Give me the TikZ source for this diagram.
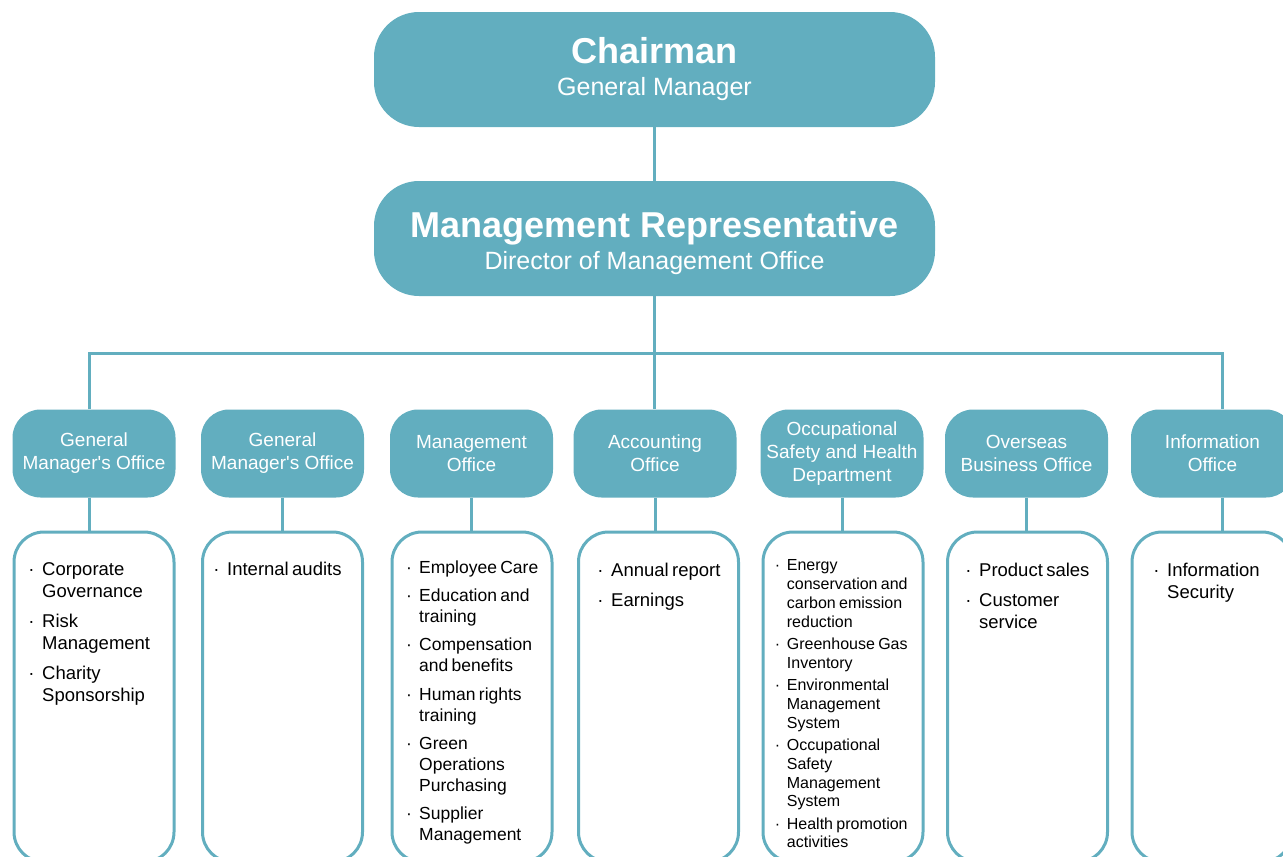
\documentclass[tikz,border=0pt]{standalone}
\usepackage{fontspec}
\setmainfont{Liberation Sans}
\definecolor{orgteal}{HTML}{62AEBF}
\newlength\itemgap
\newif\iffirstitm
\newcommand\bulletw{0.75em}
% one bulleted entry, later lines hang under the text
\newcommand\itm[1]{\iffirstitm\global\firstitmfalse\else\par\addvspace{\itemgap}\fi
  \noindent\hangindent=\bulletw\hangafter=1\relax\makebox[\bulletw][l]{·}#1}
\newcommand\listfont[3]{\fontsize{#1}{#2}\selectfont\setlength\itemgap{#3}\global\firstitmtrue}
\tikzset{
  topbox/.style={fill=orgteal, rounded corners=45pt, minimum width=561pt, minimum height=115pt, inner sep=0pt},
  chieftitle/.style={font=\fontsize{36}{40}\selectfont\bfseries, text=white, inner sep=0pt, anchor=base},
  chiefsub/.style={font=\fontsize{25}{28}\selectfont, text=white, inner sep=0pt, anchor=base},
  deptbox/.style={fill=orgteal, rounded corners=28pt, minimum width=163pt, minimum height=88pt, inner sep=0pt,
    text=white, align=center, font=\fontsize{19}{23}\selectfont},
  listbox/.style={draw=orgteal, line width=3pt, rounded corners=30pt, minimum width=160pt, minimum height=330pt, inner sep=0pt},
  listtext/.style={anchor=base west, inner sep=0pt, text width=150pt, align=left, text=black},
  link/.style={draw=orgteal, line width=3pt},
}
\begin{document}
\begin{tikzpicture}[x=1pt,y=-1pt]
\useasboundingbox (0,0) rectangle (1283,857);
\clip (0,0) rectangle (1283,857);

% top of the hierarchy
\node[topbox] (chair) at (654.5,69.5) {};
\node[chieftitle] (chairT) at (654.5,63) {Chairman};
\node[chiefsub] (chairS) at (654.5,95) {General Manager};

\node[topbox] (rep) at (654.5,238.5) {};
\node[chieftitle] (repT) at (654.5,237) {Management Representative};
\node[chiefsub] (repS) at (654.5,269) {Director of Management Office};

% departments
\node[deptbox] (d1) at (94,453.5) {General\\Manager\textquotesingle s Office};
\node[deptbox] (d2) at (282.5,453.5) {General\\Manager\textquotesingle s Office};
\node[deptbox] (d3) at (471.5,453.5) {Management\\Office};
\node[deptbox] (d4) at (655,453.5) {Accounting\\Office};
\node[deptbox] (d5) at (842,453.5) {Occupational\\Safety and Health\\Department};
\node[deptbox] (d6) at (1026.5,453.5) {Overseas\\Business Office};
\node[deptbox] (d7) at (1212.5,453.5) {Information\\Office};

% responsibility panels
\node[listbox] (l1) at (94,697) {};
\node[listbox] (l2) at (282.5,697) {};
\node[listbox] (l3) at (472,697) {};
\node[listbox] (l4) at (658.5,697) {};
\node[listbox] (l5) at (843,697) {};
\node[listbox] (l6) at (1027.5,697) {};
\node[listbox] (l7) at (1212,697) {};

\node[listtext] (t1) at (28.1,575.5) {\listfont{18.5}{22}{8pt}%
  \itm{Corporate\newline Governance}%
  \itm{Risk\newline Management}%
  \itm{Charity\newline Sponsorship}\par};
\node[listtext] (t2) at (213.1,575.5) {\listfont{18.5}{22}{8pt}%
  \itm{Internal audits}\par};
\node[listtext] (t3) at (405.9,573.3) {\listfont{17.5}{21}{7.3pt}%
  \itm{Employee Care}%
  \itm{Education and\newline training}%
  \itm{Compensation\newline and benefits}%
  \itm{Human rights\newline training}%
  \itm{Green\newline Operations\newline Purchasing}%
  \itm{Supplier\newline Management}\par};
\node[listtext] (t4) at (597.1,576) {\listfont{18.5}{22}{8pt}%
  \itm{Annual report}%
  \itm{Earnings}\par};
\node[listtext] (t5) at (774.7,570.7) {\listfont{16}{18.8}{3.5pt}%
  \itm{Energy\newline conservation and\newline carbon emission\newline reduction}%
  \itm{Greenhouse Gas\newline Inventory}%
  \itm{Environmental\newline Management\newline System}%
  \itm{Occupational\newline Safety\newline Management\newline System}%
  \itm{Health promotion\newline activities}\par};
\node[listtext] (t6) at (965.1,576) {\listfont{18.5}{22}{8pt}%
  \itm{Product sales}%
  \itm{Customer\newline service}\par};
\node[listtext] (t7) at (1153.1,576) {\listfont{18.5}{22}{8pt}%
  \itm{Information\newline Security}\par};

% connectors
\coordinate (barL) at (89,353.5);
\coordinate (barR) at (1222,353.5);
\draw[link] (chair.south) -- (rep.north);
\draw[link] (rep.south) -- (rep.south |- d4.north);
\draw[link] (d1.north -| barL) -- (barL) -- (barR) -- (d7.north -| barR);
\draw[link] (d1.south -| barL) -- (l1.north -| barL);
\draw[link] (d2.south) -- (d2.south |- l2.north);
\draw[link] (d3.south) -- (d3.south |- l3.north);
\draw[link] (d4.south) -- (d4.south |- l4.north);
\draw[link] (d5.south) -- (d5.south |- l5.north);
\draw[link] (d6.south) -- (d6.south |- l6.north);
\draw[link] (d7.south -| barR) -- (l7.north -| barR);
\end{tikzpicture}
\end{document}
